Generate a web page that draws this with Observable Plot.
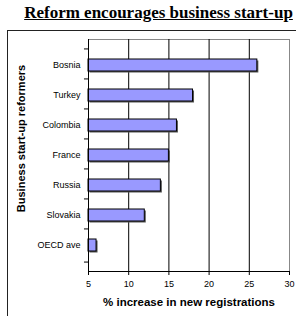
<!DOCTYPE html>
<html><head><meta charset="utf-8">
<script src="https://cdn.jsdelivr.net/npm/d3@7"></script>
<script src="https://cdn.jsdelivr.net/npm/@observablehq/plot@0.6"></script>
<style>
body{margin:0;background:#fff;width:296px;height:316px;overflow:hidden;position:relative;}
#title{position:absolute;left:0;top:3px;width:317px;text-align:center;font:bold 17px/20px "Liberation Serif",serif;text-decoration:underline;color:#000;white-space:nowrap;}
#box{position:absolute;left:7px;top:30px;width:320px;height:320px;border:1.5px solid #222;box-sizing:border-box;}
#chart{position:absolute;left:0;top:24px;}
svg text{fill:#000;}
g[aria-label="x-axis label"] text{font:bold 11.5px "Liberation Sans",Arial,sans-serif;}
</style></head>
<body>
<div id="title">Reform encourages business start-up</div>
<div id="box"></div>
<div id="chart"></div>
<script>
const countries = ["Bosnia","Turkey","Colombia","France","Russia","Slovakia","OECD ave"];
const increases = [26, 18, 16, 15, 14, 12, 6];
const xTicks = [5,10,15,20,25,30];
const gridTicks = [10,15,20,25];
const yTitle = "Business start-up reformers";
const xTitle = "% increase in new registrations";
const data = countries.map((c,i)=>({country:c, value:increases[i]}));

const H = 292, mTop = 15, mBottom = 45;
const step = (H - mTop - mBottom) / countries.length;

const chart = Plot.plot({
  width: 296, height: H,
  marginLeft: 88, marginRight: 7, marginTop: mTop, marginBottom: mBottom,
  style: {fontFamily: '"Liberation Sans", Arial, sans-serif', fontSize: "9px", background: "transparent", color: "#000"},
  x: {domain: [5, 30], ticks: xTicks},
  y: {domain: countries, padding: 0.59},
  marks: [
    Plot.frame({stroke: "#888", strokeWidth: 1}),
    Plot.ruleX(gridTicks, {stroke: "#000", strokeWidth: 1}),
    Plot.barX(data, {x1: 5, x2: "value", y: "country", fill: "#555", dx: 1.5, dy: 1.5}),
    Plot.barX(data, {x1: 5, x2: "value", y: "country", fill: "#9999ff", stroke: "#000", strokeWidth: 1}),
    Plot.ruleX([5], {stroke: "#000", strokeWidth: 1}),
    Plot.frame({anchor: "bottom", stroke: "#000", strokeWidth: 1}),
    Plot.ruleY(countries, {y: d => d, x1: 4.5, x2: 5, stroke: "#000", dy: -step/2}),
    Plot.ruleY(countries.slice(-1), {y: d => d, x1: 4.5, x2: 5, stroke: "#000", dy: step/2}),
    Plot.axisX({ticks: xTicks, tickSize: 4, tickPadding: 5, label: xTitle, labelAnchor: "center", labelOffset: 34, labelArrow: "none"}),
    Plot.axisY({tickSize: 0, tickPadding: 8, label: null}),
    Plot.text([yTitle], {text: d => d, frameAnchor: "left", textAnchor: "middle", lineAnchor: "middle", rotate: -90, dx: -67, dy: -17, fontWeight: "bold", fontSize: 11, fill: "#000"})
  ]
});
document.getElementById("chart").appendChild(chart);
</script>
</body></html>
